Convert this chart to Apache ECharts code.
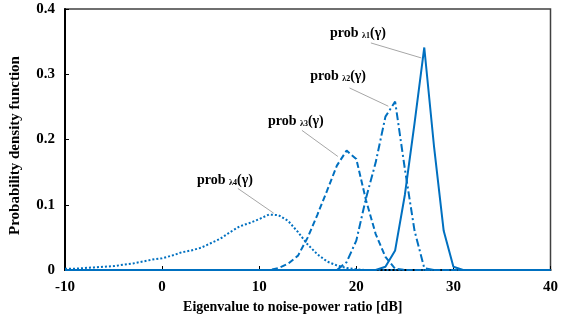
<!DOCTYPE html>
<html>
<head>
<meta charset="utf-8">
<script src="https://cdn.jsdelivr.net/npm/echarts@6/dist/echarts.min.js"></script>
<style>
  body { margin: 0; background: #fff; }
  #chart { width: 561px; height: 320px; }
</style>
</head>
<body>
<div id="chart"></div>
<script>
// x values [dB]
const snr = [-10, -9, -8, -7, -6, -5, -4, -3, -2, -1, 0, 1, 2, 3, 4, 5, 6, 7, 8, 9,
  10, 11, 12, 13, 14, 15, 16, 17, 18, 19, 20, 21, 22, 23, 24, 25, 26, 27, 28, 29,
  30, 31, 32, 33, 34, 35, 36, 37, 38, 39, 40];

// pdf values, one per snr point
const prob1 = [0, 0, 0, 0, 0, 0, 0, 0, 0, 0, 0, 0, 0, 0, 0, 0, 0, 0, 0, 0,
  0, 0, 0, 0, 0, 0, 0, 0, 0, 0, 0, 0, 0, 0.005, 0.03, 0.115, 0.225, 0.341, 0.19, 0.06,
  0.005, 0, 0, 0, 0, 0, 0, 0, 0, 0, 0];
const prob2 = [0, 0, 0, 0, 0, 0, 0, 0, 0, 0, 0, 0, 0, 0, 0, 0, 0, 0, 0, 0,
  0, 0, 0, 0, 0, 0, 0, 0, 0, 0.012, 0.045, 0.11, 0.165, 0.235, 0.258, 0.155, 0.06, 0.003, 0, 0,
  0, 0, 0, 0, 0, 0, 0, 0, 0, 0, 0];
const prob3 = [0, 0, 0, 0, 0, 0, 0, 0, 0, 0, 0, 0, 0, 0, 0, 0, 0, 0, 0, 0,
  0, 0, 0.003, 0.01, 0.022, 0.05, 0.085, 0.122, 0.16, 0.183, 0.17, 0.107, 0.055, 0.02, 0.002, 0, 0, 0, 0, 0,
  0, 0, 0, 0, 0, 0, 0, 0, 0, 0, 0];
const prob4 = [0.002, 0.002, 0.003, 0.004, 0.005, 0.006, 0.008, 0.010, 0.013, 0.016, 0.018, 0.022, 0.027, 0.030, 0.034, 0.041, 0.048, 0.058, 0.067, 0.072,
  0.078, 0.085, 0.084, 0.075, 0.058, 0.039, 0.024, 0.013, 0.007, 0.003, 0.001, 0, 0, 0, 0, 0, 0, 0, 0, 0,
  0, 0, 0, 0, 0, 0, 0, 0, 0, 0, 0];

// annotations: label text anchor (left, middle) and leader line, in data units
const labelNames = ['1', '2', '3', '4'];
const labelAt = [[17.3, 0.363], [15.25, 0.296], [10.9, 0.227], [3.6, 0.137]];
const leaderFrom = [[21.5, 0.348], [19.3, 0.279], [14.4, 0.214], [7.8, 0.125]];
const leaderTo = [[26.7, 0.325], [23.3, 0.251], [18.1, 0.174], [11.5, 0.087]];

const blue = '#0070C0';
const font = '"Liberation Serif", "Times New Roman", serif';

function pairs(ys) {
  return snr.map(function (x, i) { return [x, ys[i]]; });
}

var chart = echarts.init(document.getElementById('chart'));

var option = {
  animation: false,
  grid: {
    left: 60, right: 6, top: 9, bottom: 50,
    show: true, borderColor: '#404040', borderWidth: 1.5
  },
  xAxis: {
    type: 'value', min: -10, max: 40, interval: 10,
    name: 'Eigenvalue to noise-power ratio [dB]',
    nameLocation: 'middle', nameGap: 28,
    nameTextStyle: { fontFamily: font, fontWeight: 'bold', fontSize: 14, color: '#000', padding: [0, 30, 0, 0] },
    axisLine: { onZero: false, lineStyle: { color: '#000', width: 2 } },
    axisTick: { inside: true, length: 4, lineStyle: { color: '#000' } },
    axisLabel: { fontFamily: font, fontWeight: 'bold', fontSize: 15, color: '#000', margin: 10 },
    splitLine: { show: false }
  },
  yAxis: {
    type: 'value', min: 0, max: 0.4, interval: 0.1,
    name: 'Probability density function',
    nameLocation: 'middle', nameGap: 42,
    nameTextStyle: { fontFamily: font, fontWeight: 'bold', fontSize: 15, color: '#000', padding: [0, 12, 0, 0] },
    axisLine: { show: true, onZero: false, lineStyle: { color: '#000', width: 2 } },
    axisTick: { show: true, inside: true, length: 4, lineStyle: { color: '#000' } },
    axisLabel: { fontFamily: font, fontWeight: 'bold', fontSize: 15, color: '#000', margin: 10 },
    splitLine: { show: false }
  },
  series: [
    { name: 'prob4', type: 'line', data: pairs(prob4), symbol: 'none',
      lineStyle: { color: blue, width: 2, type: [2, 2] } },
    { name: 'prob3', type: 'line', data: pairs(prob3), symbol: 'none',
      lineStyle: { color: blue, width: 2, type: [6, 3] } },
    { name: 'prob2', type: 'line', data: pairs(prob2), symbol: 'none',
      lineStyle: { color: blue, width: 2, type: [8, 3, 2, 3] } },
    { name: 'prob1', type: 'line', data: pairs(prob1), symbol: 'none',
      lineStyle: { color: blue, width: 2 } }
  ]
};

chart.setOption(option);

// labels and leader lines
var graphics = [];
labelNames.forEach(function (n, i) {
  var p = chart.convertToPixel({ gridIndex: 0 }, labelAt[i]);
  var a = chart.convertToPixel({ gridIndex: 0 }, leaderFrom[i]);
  var b = chart.convertToPixel({ gridIndex: 0 }, leaderTo[i]);
  graphics.push({
    type: 'line',
    shape: { x1: a[0], y1: a[1], x2: b[0], y2: b[1] },
    style: { stroke: '#a6a6a6', lineWidth: 1 },
    z: 10
  });
  graphics.push({
    type: 'text', x: p[0], y: p[1], z: 11,
    style: {
      text: '{a|prob }{s|\u03bb' + n + '}{a|(\u03b3)}',
      verticalAlign: 'middle', align: 'left',
      rich: {
        a: { fontFamily: font, fontWeight: 'bold', fontSize: 14, fill: '#000' },
        s: { fontFamily: font, fontWeight: 'bold', fontSize: 8, fill: '#000', padding: [5, 0, 0, 0] }
      }
    }
  });
});
chart.setOption({ graphic: graphics });
</script>
</body>
</html>
